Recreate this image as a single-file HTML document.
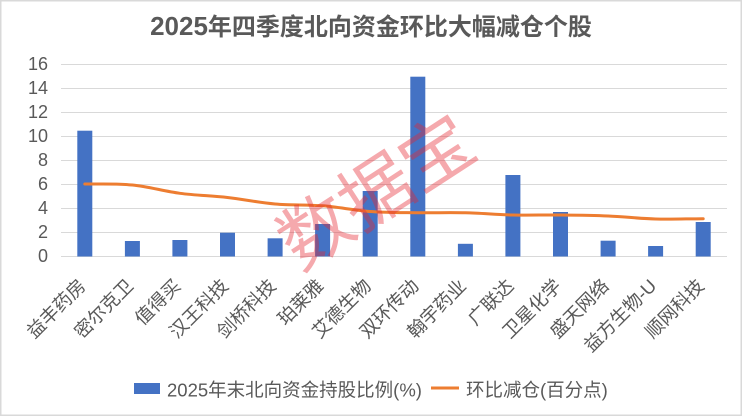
<!DOCTYPE html>
<html>
<head>
<meta charset="utf-8">
<style>
  html,body{margin:0;padding:0;background:#fff;}
  svg{display:block;}
  text{font-family:"Liberation Sans","Noto Sans CJK SC",sans-serif;fill:#595959;}
</style>
</head>
<body>
<svg width="742" height="416" viewBox="0 0 742 416" xmlns="http://www.w3.org/2000/svg">
  <rect x="0.75" y="0.75" width="740.5" height="414.5" fill="#fff" stroke="#D9D9D9" stroke-width="1.5"/>

  <!-- Title -->
  <text x="371" y="35" text-anchor="middle" font-weight="bold" font-size="24"><tspan font-size="26">2025</tspan>年四季度北向资金环比大幅减仓个股</text>

  <!-- Gridlines -->
  <g stroke="#D9D9D9" stroke-width="1">
    <line x1="61" y1="64.5" x2="727" y2="64.5"/>
    <line x1="61" y1="88.5" x2="727" y2="88.5"/>
    <line x1="61" y1="112.5" x2="727" y2="112.5"/>
    <line x1="61" y1="136.5" x2="727" y2="136.5"/>
    <line x1="61" y1="160.5" x2="727" y2="160.5"/>
    <line x1="61" y1="184.5" x2="727" y2="184.5"/>
    <line x1="61" y1="208.5" x2="727" y2="208.5"/>
    <line x1="61" y1="232.5" x2="727" y2="232.5"/>
    <line x1="61" y1="256.5" x2="727" y2="256.5"/>
  </g>

  <!-- Y labels -->
  <g font-size="18" text-anchor="end">
    <text x="48" y="70">16</text>
    <text x="48" y="94">14</text>
    <text x="48" y="118">12</text>
    <text x="48" y="142">10</text>
    <text x="48" y="166">8</text>
    <text x="48" y="190">6</text>
    <text x="48" y="214">4</text>
    <text x="48" y="238">2</text>
    <text x="48" y="262">0</text>
  </g>

  <!-- Bars -->
  <g fill="#4472C4">
    <rect x="77.3" y="130.7" width="15" height="125.8"/>
    <rect x="124.9" y="241" width="15" height="15.5"/>
    <rect x="172.4" y="240" width="15" height="16.5"/>
    <rect x="220" y="232.7" width="15" height="23.8"/>
    <rect x="267.6" y="238.3" width="15" height="18.2"/>
    <rect x="315.1" y="224" width="15" height="32.5"/>
    <rect x="362.7" y="191" width="15" height="65.5"/>
    <rect x="410.3" y="76.7" width="15" height="179.8"/>
    <rect x="457.9" y="243.8" width="15" height="12.7"/>
    <rect x="505.4" y="175" width="15" height="81.5"/>
    <rect x="553" y="212" width="15" height="44.5"/>
    <rect x="600.6" y="240.7" width="15" height="15.8"/>
    <rect x="648.1" y="246" width="15" height="10.5"/>
    <rect x="695.7" y="222" width="15" height="34.5"/>
  </g>

  <!-- Line -->
  <path fill="none" stroke="#ED7D31" stroke-width="3" stroke-linecap="round" stroke-linejoin="round"
    d="M84.8,184
       C100.66,184.17 116.54,183.45 132.4,185
       C148.26,186.55 164.04,191.22 179.9,193.3
       C195.76,195.38 211.64,195.72 227.5,197.5
       C243.36,199.28 259.24,202.62 275.1,204
       C290.96,205.38 306.74,204.55 322.6,205.8
       C338.46,207.05 354.34,210.35 370.2,211.5
       C386.06,212.65 401.94,212.48 417.8,212.7
       C433.66,212.92 449.54,212.42 465.4,212.8
       C481.26,213.18 497.04,214.63 512.9,215
       C528.76,215.37 544.64,214.83 560.5,215
       C576.36,215.17 592.24,215.33 608.1,216
       C623.96,216.67 639.74,218.55 655.6,219
       C671.46,219.45 687.34,218.75 703.2,218.7"/>

  <!-- X labels -->
  <g font-size="18.5" text-anchor="end">
    <text transform="translate(86.8,287) rotate(-45)">益丰药房</text>
    <text transform="translate(134.4,287) rotate(-45)">密尔克卫</text>
    <text transform="translate(181.9,287) rotate(-45)">值得买</text>
    <text transform="translate(229.5,287) rotate(-45)">汉王科技</text>
    <text transform="translate(277.1,287) rotate(-45)">剑桥科技</text>
    <text transform="translate(324.6,287) rotate(-45)">珀莱雅</text>
    <text transform="translate(372.2,287) rotate(-45)">艾德生物</text>
    <text transform="translate(419.8,287) rotate(-45)">双环传动</text>
    <text transform="translate(467.4,287) rotate(-45)">翰宇药业</text>
    <text transform="translate(514.9,287) rotate(-45)">广联达</text>
    <text transform="translate(562.5,287) rotate(-45)">卫星化学</text>
    <text transform="translate(610.1,287) rotate(-45)">盛天网络</text>
    <text transform="translate(657.6,287) rotate(-45)">益方生物-U</text>
    <text transform="translate(705.2,287) rotate(-45)">顺网科技</text>
  </g>

  <!-- Legend -->
  <rect x="134" y="383" width="26" height="11" fill="#4472C4"/>
  <text x="167" y="396.5" font-size="18.5">2025年末北向资金持股比例(%)</text>
  <line x1="431" y1="388" x2="459" y2="388" stroke="#ED7D31" stroke-width="3"/>
  <text x="466" y="396.5" font-size="18.5">环比减仓(百分点)</text>

  <!-- Watermark -->
  <text x="377" y="193" text-anchor="middle" dominant-baseline="central" font-size="72"
        transform="rotate(-33 377 193)" style="fill:rgba(230,40,50,0.4)">数据宝</text>
</svg>
</body>
</html>
